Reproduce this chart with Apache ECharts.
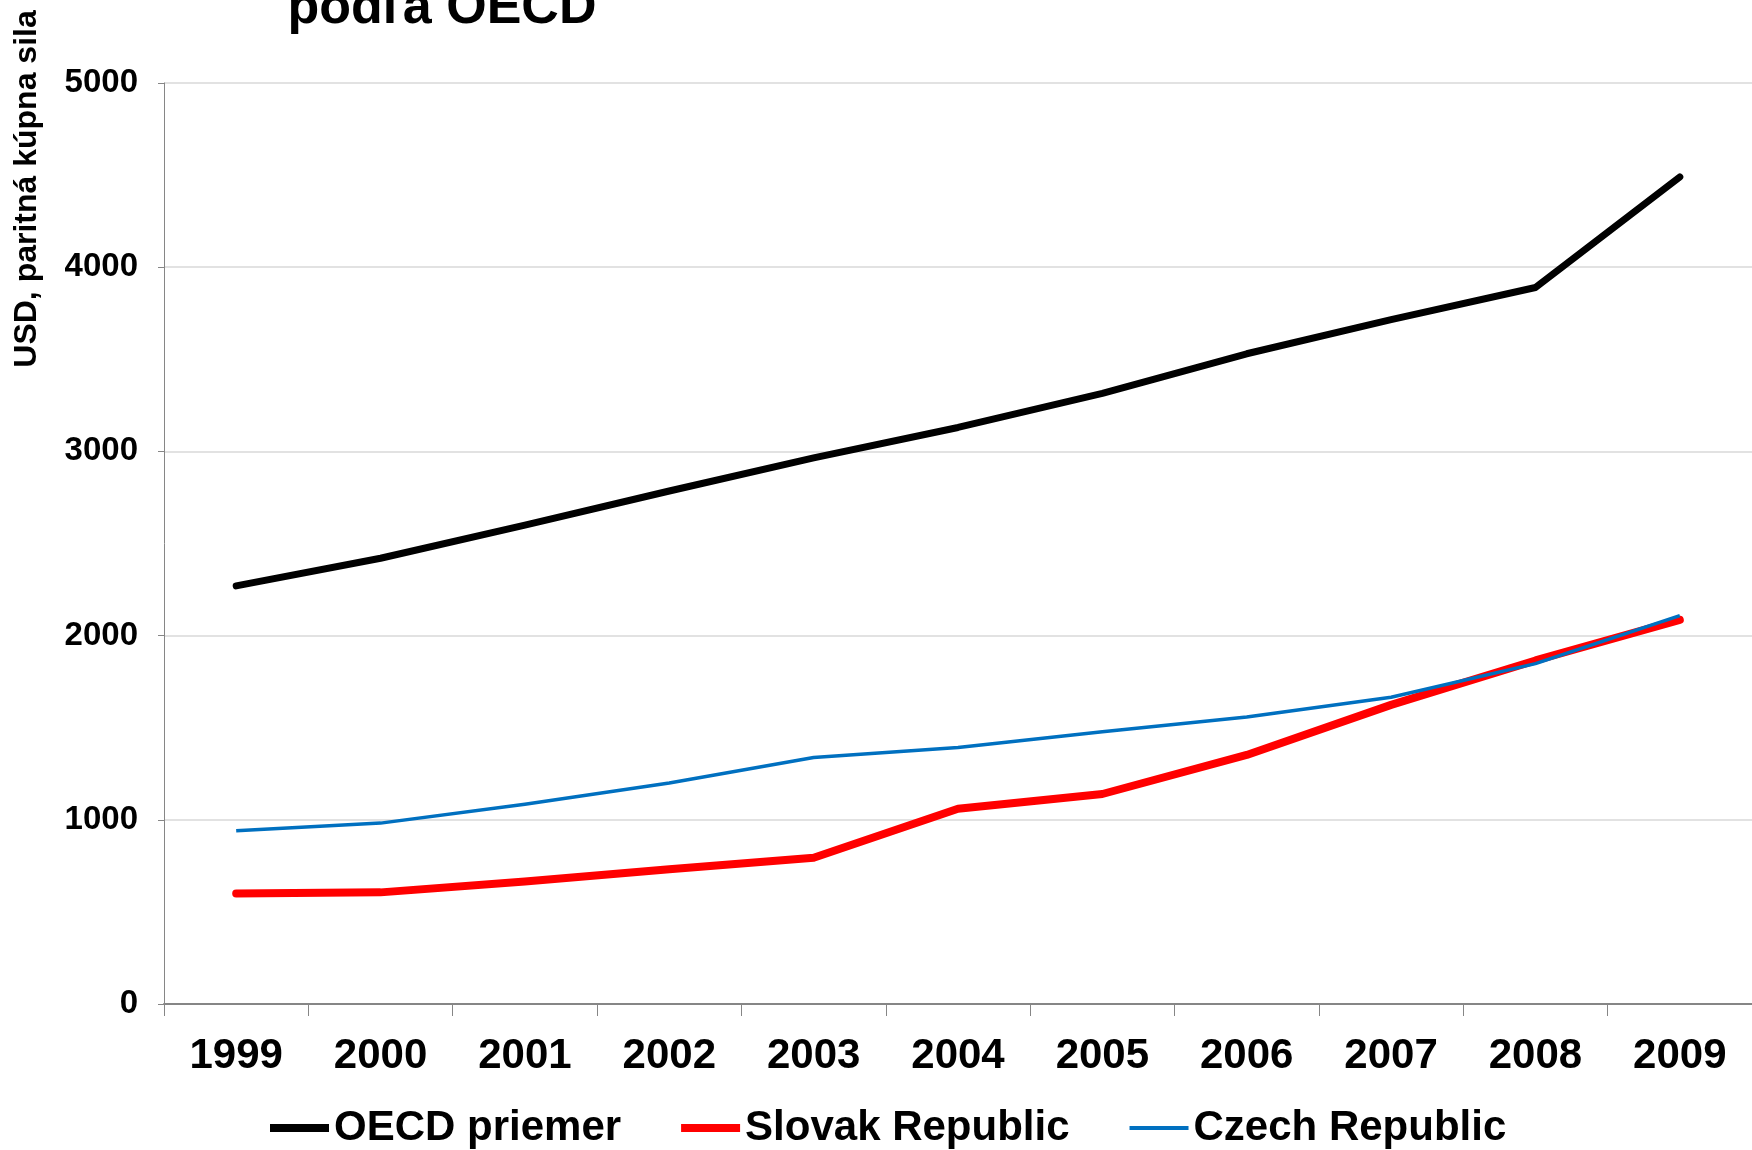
<!DOCTYPE html>
<html>
<head>
<meta charset="utf-8">
<script src="https://cdn.jsdelivr.net/npm/echarts@6/dist/echarts.min.js"></script>
<style>
html,body{margin:0;padding:0;background:#fff;}
#chart{width:1752px;height:1150px;}
</style>
</head>
<body>
<div id="chart"></div>
<script>
const years = ['1999','2000','2001','2002','2003','2004','2005','2006','2007','2008','2009'];
const oecd = [2270, 2420, 2600, 2785, 2965, 3130, 3315, 3530, 3715, 3890, 4490];
const slovak = [600, 606, 665, 732, 794, 1060, 1140, 1352, 1624, 1865, 2085];
const czech = [940, 982, 1085, 1200, 1338, 1392, 1478, 1558, 1665, 1848, 2108];
const seriesNames = ['OECD priemer', 'Slovak Republic', 'Czech Republic'];
const yTicks = [0, 1000, 2000, 3000, 4000, 5000];
const titleText = 'podľa OECD';
const yAxisTitle = 'USD, paritná kúpna sila';

const FONT = '"Liberation Sans", Arial, sans-serif';
const thickIcon = 'path://M0,0L59,0L59,8L0,8Z';
const thinIcon = 'path://M0,0L0.01,0L0.01,0.01Z M0,2L59,2L59,6L0,6Z M0,8L0.01,8L0.01,7.99Z';
const chart = echarts.init(document.getElementById('chart'), null, {renderer: 'canvas'});
chart.setOption({
  animation: false,
  backgroundColor: '#ffffff',
  textStyle: {fontFamily: FONT},
  title: {
    text: titleText,
    left: 437, textAlign: 'center',
    top: -22,
    textStyle: {fontSize: 52, fontWeight: 'bold', color: '#000', fontFamily: FONT}
  },
  graphic: [{
    type: 'text',
    x: 27, y: 189,
    rotation: Math.PI / 2,
    style: {
      text: yAxisTitle,
      font: 'bold 32px ' + FONT,
      fill: '#000',
      textAlign: 'center',
      textVerticalAlign: 'middle'
    }
  }],
  legend: {
    data: [
      {name: seriesNames[0], icon: thickIcon},
      {name: seriesNames[1], icon: thickIcon},
      {name: seriesNames[2], icon: thinIcon}
    ],
    left: 270, top: 1107,
    itemWidth: 59, itemHeight: 8, itemGap: 60,
    padding: 0,
    textStyle: {fontSize: 42, fontWeight: 'bold', color: '#000', fontFamily: FONT}
  },
  grid: {left: 164, right: -6, top: 83, bottom: 146, containLabel: false},
  xAxis: {
    type: 'category',
    data: years,
    boundaryGap: true,
    axisLine: {lineStyle: {color: '#868686', width: 2}},
    axisTick: {show: true, length: 12, lineStyle: {color: '#868686', width: 1}},
    axisLabel: {fontSize: 42, fontWeight: 'bold', color: '#000', margin: 31, fontFamily: FONT, interval: 0},
    splitLine: {show: false}
  },
  yAxis: {
    type: 'value',
    min: 0, max: 5000, interval: 1000,
    axisLine: {show: true, lineStyle: {color: '#868686', width: 1}},
    axisTick: {show: true, length: 6, lineStyle: {color: '#868686'}},
    axisLabel: {fontSize: 33, fontWeight: 'bold', color: '#000', margin: 26, fontFamily: FONT,
      formatter: v => yTicks.includes(v) ? String(v) : ''},
    splitLine: {show: true, lineStyle: {color: '#d9d9d9', width: 1.5}}
  },
  series: [
    {name: seriesNames[0], type: 'line', data: oecd, symbol: 'none',
     lineStyle: {color: '#000000', width: 7, cap: 'round', join: 'round'}, itemStyle: {color: '#000000'}, z: 3},
    {name: seriesNames[1], type: 'line', data: slovak, symbol: 'none',
     lineStyle: {color: '#ff0000', width: 8, cap: 'round', join: 'round'}, itemStyle: {color: '#ff0000'}, z: 2},
    {name: seriesNames[2], type: 'line', data: czech, symbol: 'none',
     lineStyle: {color: '#0070c0', width: 3.5, join: 'round'}, itemStyle: {color: '#0070c0'}, z: 4}
  ]
});
</script>
</body>
</html>
